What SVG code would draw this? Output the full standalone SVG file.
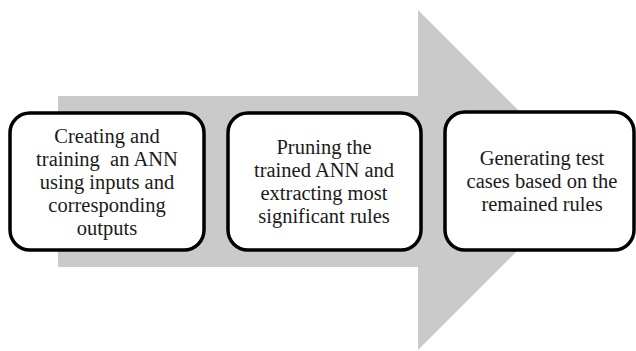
<svg xmlns="http://www.w3.org/2000/svg" width="636" height="351" viewBox="0 0 636 351">
<style>
.box{fill:#fff;stroke:#000;stroke-width:3.5}
</style>
<rect width="636" height="351" fill="#fff"/>
<g id="arrow">
<polygon points="58,96 418,96 418,10 588,180 418,350 418,267 58,267" fill="#cacaca"/>
</g>
<g font-family="Liberation Serif" font-size="20.5" fill="#1a1a1a" text-anchor="middle">
<g id="node1">
<rect class="box" x="10" y="113" width="194" height="137" rx="20"/>
<text x="107" y="143">Creating and</text>
<text x="107" y="166" xml:space="preserve">training  an ANN</text>
<text x="107" y="189">using inputs and</text>
<text x="107" y="212">corresponding</text>
<text x="107" y="235">outputs</text>
</g>
<g id="node2">
<rect class="box" x="228" y="113" width="193" height="137" rx="20"/>
<text x="324" y="154">Pruning the</text>
<text x="324" y="177">trained ANN and</text>
<text x="324" y="200">extracting most</text>
<text x="324" y="223">significant rules</text>
</g>
<g id="node3">
<rect class="box" x="445" y="112" width="189" height="138" rx="20"/>
<text x="542" y="165">Generating test</text>
<text x="542" y="188">cases based on the</text>
<text x="542" y="211">remained rules</text>
</g>
</g>
<g id="connectors"></g>
</svg>
